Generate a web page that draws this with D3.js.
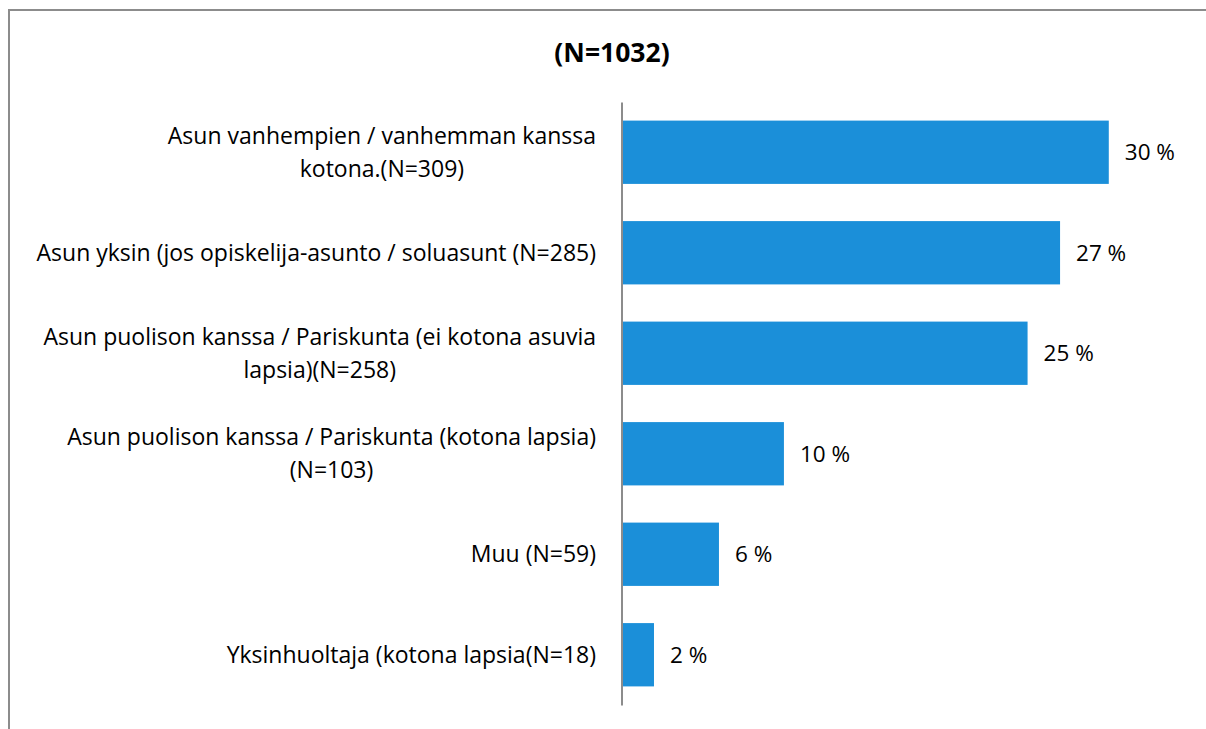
<!DOCTYPE html>
<html lang="fi">
<head>
  <meta charset="UTF-8">
  <title>(N=1032)</title>
  <script src="https://d3js.org/d3.v7.min.js"></script>
  <style>
    html, body {
      margin: 0;
      background: #fff;
      overflow: hidden;
      font-family: "Open Sans", Lato, sans-serif;
    }
    svg { display: block; }
    .label { font-size: 23px; fill: #000; }
    .value { font-size: 22.5px; fill: #000; }
    .title { font-size: 26.5px; font-weight: bold; fill: #000; }
  </style>
</head>
<body>
  <div id="chart"></div>
  <script>
    const width = 1206, height = 729;

    // categories (wrapped lines as in the picture) and percentages
    const categories = [
      ["Asun vanhempien / vanhemman kanssa", "kotona.(N=309)"],
      ["Asun yksin (jos opiskelija-asunto / soluasunt (N=285)"],
      ["Asun puolison kanssa / Pariskunta (ei kotona asuvia", "lapsia)(N=258)"],
      ["Asun puolison kanssa / Pariskunta (kotona lapsia)", "(N=103)"],
      ["Muu (N=59)"],
      ["Yksinhuoltaja (kotona lapsia(N=18)"]
    ];
    const values = [30, 27, 25, 10, 6, 2];
    const valueLabels = ["30 %", "27 %", "25 %", "10 %", "6 %", "2 %"];
    const title = "(N=1032)";

    const keys = categories.map((c, i) => i);

    const svg = d3.select("#chart")
      .append("svg")
      .attr("width", width)
      .attr("height", height);

    // outer frame (runs past the right and bottom edges)
    svg.append("path")
      .attr("d", "M9,740V10H1240")
      .attr("fill", "none")
      .attr("stroke", "#8c8c8c")
      .attr("stroke-width", 2);

    svg.append("text")
      .attr("class", "title")
      .attr("x", 612)
      .attr("y", 62)
      .attr("text-anchor", "middle")
      .text(title);

    const x = d3.scaleLinear().domain([0, 35]).range([621.5, 1190]);
    const y = d3.scaleBand()
      .domain(keys)
      .range([102, 705])
      .paddingInner(0.37)
      .paddingOuter(0.185);

    // bars
    svg.selectAll("rect.bar")
      .data(values)
      .enter()
      .append("rect")
      .attr("class", "bar")
      .attr("x", x(0))
      .attr("y", (d, i) => y(i))
      .attr("width", d => x(d) - x(0))
      .attr("height", y.bandwidth())
      .attr("fill", "#1b8fd9");

    // value labels
    svg.selectAll("text.value")
      .data(values)
      .enter()
      .append("text")
      .attr("class", "value")
      .attr("x", d => x(d) + 16)
      .attr("y", (d, i) => y(i) + y.bandwidth() / 2)
      .attr("dy", "0.35em")
      .text((d, i) => valueLabels[i]);

    // vertical category axis
    svg.append("g")
      .attr("transform", `translate(${x(0)},0)`)
      .call(d3.axisLeft(y).tickSize(0).tickFormat(""))
      .call(g => g.select(".domain").attr("stroke", "#8c8c8c").attr("stroke-width", 2));

    // category labels: lines centred on each other, block right-aligned
    const rightEdge = 596, lineH = 33;
    categories.forEach((lines, i) => {
      const g = svg.append("g");
      const texts = lines.map(l => g.append("text").attr("class", "label").text(l));
      const w = d3.max(texts, t => t.node().getComputedTextLength());
      const cx = rightEdge - w / 2;
      const cy = y(i) + y.bandwidth() / 2;
      texts.forEach((t, j) => {
        t.attr("x", cx)
          .attr("y", cy + (j - (lines.length - 1) / 2) * lineH)
          .attr("dy", "0.35em")
          .attr("text-anchor", "middle");
      });
    });
  </script>
</body>
</html>
